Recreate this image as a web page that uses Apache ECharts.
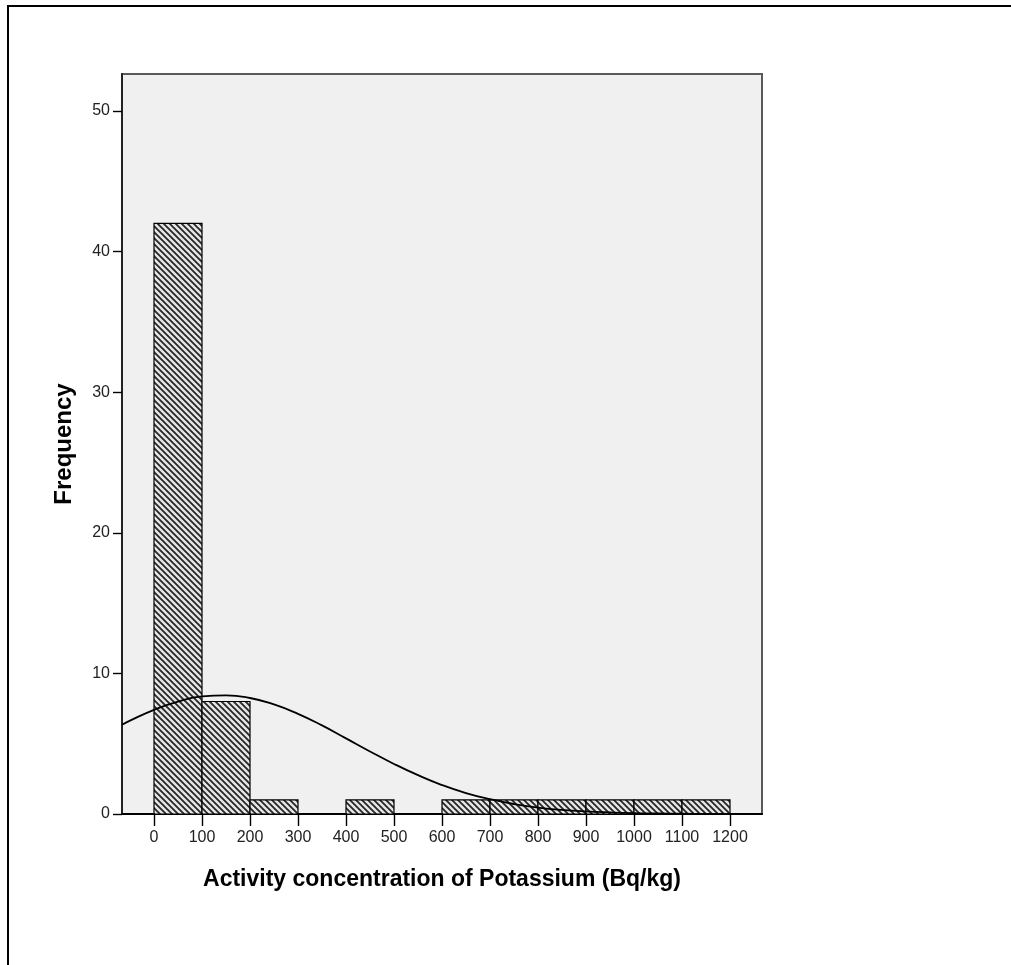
<!DOCTYPE html>
<html>
<head>
<meta charset="utf-8">
<title>Activity concentration of Potassium</title>
<script src="https://cdn.jsdelivr.net/npm/echarts@6/dist/echarts.min.js"></script>
<style>
  html, body { margin: 0; padding: 0; background: #ffffff; }
  #chart { width: 1011px; height: 965px; }
</style>
</head>
<body>
<div id="chart"></div>
<script>
// Histogram bins (Bq/kg) and their frequencies
const binLeft  = [0, 100, 200, 400, 600, 700, 800, 900, 1000, 1100];
const binRight = [100, 200, 300, 500, 700, 800, 900, 1000, 1100, 1200];
const counts   = [42, 8, 1, 1, 1, 1, 1, 1, 1, 1];

// Fitted normal curve, sampled across the axis range
const curveX = [-66.67, -50, 0, 50, 100, 150, 200, 250, 300, 350, 400, 450, 500, 550, 600,
                650, 700, 750, 800, 850, 900, 950, 1000, 1050, 1100, 1150, 1200, 1250, 1266.67];
const curveY = [6.35, 6.64, 7.41, 8.00, 8.36, 8.44, 8.25, 7.79, 7.12, 6.30, 5.38, 4.45, 3.56, 2.76, 2.06,
                1.49, 1.05, 0.71, 0.46, 0.29, 0.18, 0.11, 0.06, 0.034, 0.018, 0.0095, 0.0048, 0.0023, 0.0018];

// Tick labels
const xTicks = [0, 100, 200, 300, 400, 500, 600, 700, 800, 900, 1000, 1100, 1200];
const yTicks = [0, 10, 20, 30, 40, 50];

const FONT = "'Liberation Sans', Arial, sans-serif";

// Diagonal hatch tile for the bars
function hatchTile() {
  const s = 6;
  const c = document.createElement('canvas');
  c.width = s; c.height = s;
  const g = c.getContext('2d');
  g.fillStyle = '#e6e6e6';
  g.fillRect(0, 0, s, s);
  g.strokeStyle = '#262626';
  g.lineWidth = 1.8;
  g.beginPath();
  g.moveTo(-1, -1); g.lineTo(s + 1, s + 1);
  g.moveTo(-1, s - 1); g.lineTo(1, s + 1);
  g.moveTo(s - 1, -1); g.lineTo(s + 1, 1);
  g.stroke();
  return c;
}
const hatch = { image: hatchTile(), repeat: 'repeat' };

const barData = binLeft.map((l, i) => [l, binRight[i], counts[i]]);
const curveData = curveX.map((x, i) => [x, curveY[i]]);

const chart = echarts.init(document.getElementById('chart'), null, { renderer: 'canvas' });

chart.setOption({
  animation: false,
  backgroundColor: '#ffffff',
  graphic: [
    { type: 'line', shape: { x1: 7, y1: 6, x2: 1011, y2: 6 }, style: { stroke: '#000', lineWidth: 2 } },
    { type: 'line', shape: { x1: 8, y1: 5, x2: 8, y2: 965 }, style: { stroke: '#000', lineWidth: 2 } }
  ],
  grid: {
    left: 122, top: 74, right: 249, bottom: 151,
    show: true,
    backgroundColor: '#f0f0f0',
    borderColor: '#5a5a5a',
    borderWidth: 2
  },
  xAxis: {
    type: 'value',
    min: -66.67,
    max: 1266.67,
    name: 'Activity concentration of Potassium (Bq/kg)',
    nameLocation: 'middle',
    nameGap: 54,
    nameTextStyle: { fontFamily: FONT, fontWeight: 'bold', fontSize: 23, color: '#000' },
    axisLine: { onZero: false, lineStyle: { color: '#000', width: 1.8 } },
    axisTick: { show: true, length: 12, customValues: xTicks, lineStyle: { color: '#000', width: 1.4 } },
    axisLabel: {
      customValues: xTicks, fontFamily: FONT, fontSize: 16, color: '#222', margin: 16,
      formatter: v => String(v)
    },
    splitLine: { show: false }
  },
  yAxis: {
    type: 'value',
    min: 0,
    max: 52.63,
    name: 'Frequency',
    nameLocation: 'middle',
    nameGap: 46,
    nameTextStyle: { fontFamily: FONT, fontWeight: 'bold', fontSize: 24, color: '#000' },
    axisLine: { show: true, onZero: false, lineStyle: { color: '#222', width: 2 } },
    axisTick: { show: true, length: 9, customValues: yTicks, lineStyle: { color: '#000', width: 1.4 } },
    axisLabel: {
      customValues: yTicks, fontFamily: FONT, fontSize: 16, color: '#222', margin: 12,
      formatter: v => String(v)
    },
    splitLine: { show: false }
  },
  series: [
    {
      type: 'custom',
      data: barData,
      encode: { x: [0, 1], y: 2 },
      renderItem: function (params, api) {
        const topLeft = api.coord([api.value(0), api.value(2)]);
        const botRight = api.coord([api.value(1), 0]);
        return {
          type: 'rect',
          shape: {
            x: topLeft[0],
            y: topLeft[1],
            width: botRight[0] - topLeft[0],
            height: botRight[1] - topLeft[1]
          },
          style: { fill: hatch, stroke: '#000', lineWidth: 1.2 }
        };
      },
      z: 2
    },
    {
      type: 'line',
      data: curveData,
      smooth: true,
      showSymbol: false,
      symbol: 'none',
      clip: true,
      lineStyle: { color: '#000', width: 1.8 },
      z: 3
    }
  ]
});
</script>
</body>
</html>
